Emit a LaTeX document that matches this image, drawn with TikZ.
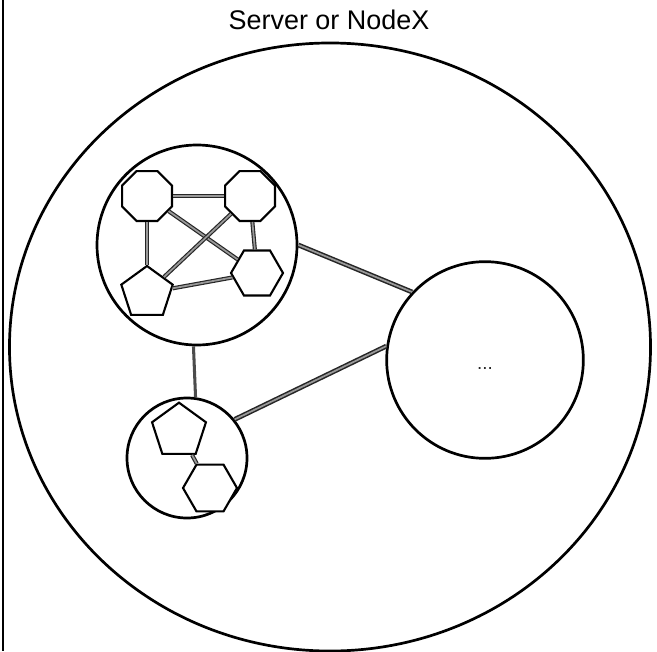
\documentclass[tikz,border=0pt]{standalone}
\usepackage{fontspec}
\setmainfont{Liberation Sans}
\usetikzlibrary{shapes.geometric}

\begin{document}
\begin{tikzpicture}[x=0.03cm, y=-0.03cm,
        group/.style={draw, circle, line width=2.3pt, inner sep=0pt},
        proc/.style={draw, regular polygon, fill=white, line width=1.8pt,
                inner sep=0pt, minimum size=1.62cm},
        link/.style={draw=black!85, double=black!40, double distance=1.5pt, line width=1pt},
        bridge/.style={draw=black!70, line width=2.6pt}
    ]
    \useasboundingbox (0,0) rectangle (657,651);
    \draw[line width=2.2pt] (3,0) -- (3,651);

    \node[font=\fontsize{23}{27}\selectfont] (title) at (329,20) {Server or NodeX};
    \node[draw, ellipse, line width=2.3pt, inner sep=0pt, minimum width=19.23cm,
        minimum height=18.24cm] (server) at (330,347) {};

    % groups
    \node[group, minimum size=6cm] (grpA) at (197,245) {};
    \node[group, minimum size=3.6cm] (grpB) at (187,458) {};
    \node[group, minimum size=5.9cm, font=\fontsize{16}{18}\selectfont, text=black!85,
        text height=17pt] (grpC) at (485,360) {...};

    \draw[link, line width=1.3pt] (grpA.0) -- (grpC.137);
    \draw[link, line width=1.3pt] (grpB.39) -- (grpC.172);
    \draw[bridge] (grpA.268) -- (grpB.82);

    % processes in group A
    \node[proc, regular polygon sides=8] (octA) at (147,196) {};
    \node[proc, regular polygon sides=8] (octB) at (250,196) {};
    \node[proc, regular polygon sides=5] (pentA) at (147,293) {};
    \node[proc, regular polygon sides=6, minimum size=1.56cm] (hexA) at (257,273) {};

    \draw[link] (octA) -- (octB);
    \draw[link] (octA) -- (pentA);
    \draw[link] (octA) -- (hexA);
    \draw[link] (octB) -- (pentA);
    \draw[link] (octB) -- (hexA);
    \draw[link] (pentA) -- (hexA);

    % processes in group B
    \node[proc, regular polygon sides=5, minimum size=1.7cm] (pentB) at (179,431) {};
    \node[proc, regular polygon sides=6] (hexB) at (210,488) {};
    \draw[link] (pentB) -- (hexB);
\end{tikzpicture}
\end{document}
